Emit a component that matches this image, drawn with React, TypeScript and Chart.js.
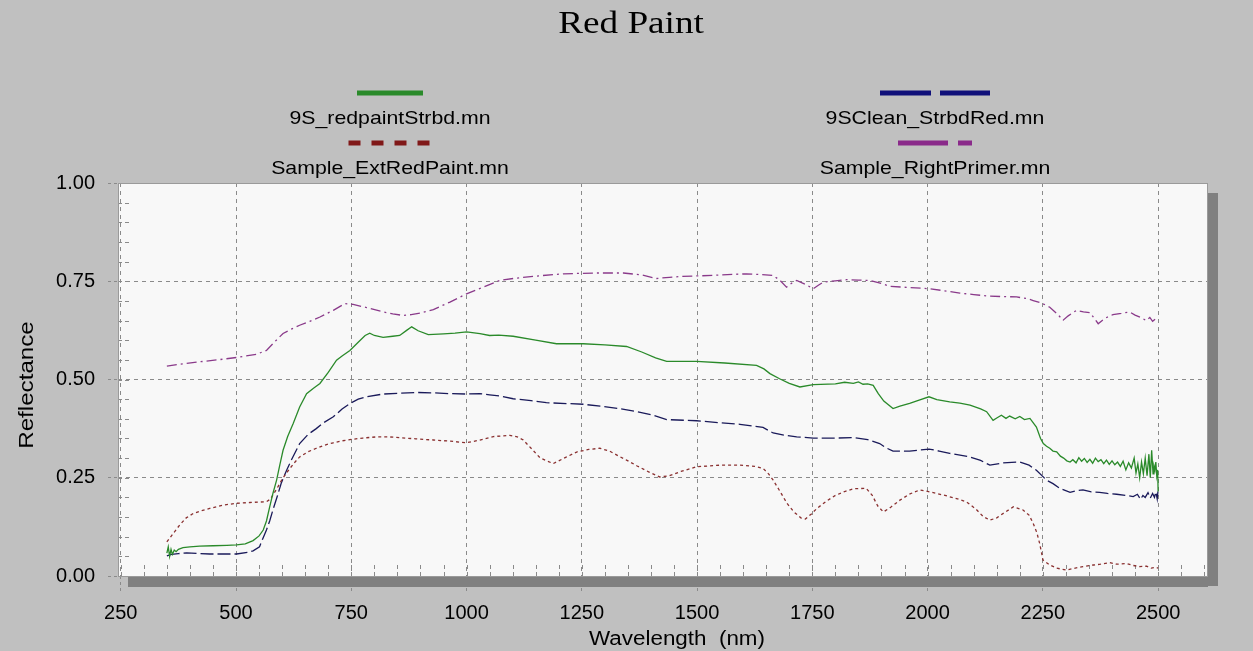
import React, { useEffect, useRef } from 'react';
import { Chart, registerables } from 'chart.js';

Chart.register(...registerables);

const TITLE = 'Red Paint';
const X_TITLE = 'Wavelength';
const X_UNIT = '(nm)';
const Y_TITLE = 'Reflectance';
const X_TICKS = [250, 500, 750, 1000, 1250, 1500, 1750, 2000, 2250, 2500];
const Y_TICKS = [0, 0.25, 0.5, 0.75, 1];
const SERIES_NAMES = ['9S_redpaintStrbd.mn', 'Sample_ExtRedPaint.mn', '9SClean_StrbdRed.mn', 'Sample_RightPrimer.mn'];

const greenNm = [350, 353, 356, 359, 362, 366, 370, 375, 385, 400, 421, 450, 480, 501, 520, 537, 550, 559, 566, 573, 580, 588, 595, 602, 612, 624, 638, 653, 668, 682, 700, 718, 730, 747, 765, 780, 790, 800, 819, 840, 855, 870, 881, 895, 917, 950, 975, 1000, 1029, 1050, 1070, 1101, 1150, 1195, 1253, 1300, 1347, 1380, 1410, 1434, 1499, 1560, 1629, 1645, 1658, 1679, 1700, 1723, 1752, 1800, 1820, 1839, 1850, 1860, 1870, 1882, 1893, 1905, 1925, 1940, 1961, 1980, 2003, 2020, 2048, 2070, 2092, 2115, 2128, 2142, 2150, 2160, 2170, 2178, 2190, 2200, 2210, 2222, 2236, 2245, 2251, 2258, 2265, 2272, 2280, 2288, 2295, 2302, 2309, 2315, 2322, 2328, 2334, 2340, 2346, 2352, 2358, 2364, 2370, 2376, 2382, 2388, 2394, 2400, 2406, 2412, 2418, 2424, 2430, 2436, 2442, 2448, 2452, 2456, 2460, 2464, 2468, 2472, 2476, 2480, 2483, 2486, 2489, 2491, 2493, 2495, 2497, 2499, 2500];
const greenVal = [0.058, 0.074, 0.05, 0.068, 0.055, 0.066, 0.062, 0.068, 0.072, 0.074, 0.076, 0.077, 0.078, 0.079, 0.082, 0.09, 0.102, 0.117, 0.14, 0.176, 0.21, 0.244, 0.283, 0.32, 0.355, 0.388, 0.43, 0.464, 0.478, 0.49, 0.518, 0.549, 0.56, 0.574, 0.595, 0.612, 0.618, 0.612, 0.607, 0.61, 0.612, 0.625, 0.634, 0.624, 0.614, 0.616, 0.618, 0.621, 0.617, 0.612, 0.613, 0.61, 0.6, 0.591, 0.591, 0.588, 0.584, 0.57, 0.555, 0.546, 0.546, 0.542, 0.536, 0.527, 0.515, 0.502, 0.49, 0.481, 0.487, 0.489, 0.493, 0.49, 0.494, 0.488, 0.489, 0.485, 0.464, 0.445, 0.426, 0.432, 0.439, 0.447, 0.456, 0.449, 0.443, 0.44, 0.435, 0.425, 0.418, 0.396, 0.402, 0.409, 0.401, 0.407, 0.4, 0.406, 0.398, 0.401, 0.379, 0.35, 0.337, 0.33, 0.325, 0.318, 0.316, 0.305, 0.3, 0.293, 0.29, 0.296, 0.288, 0.301, 0.292, 0.299, 0.289, 0.297, 0.287, 0.3, 0.291, 0.296, 0.286, 0.295, 0.284, 0.293, 0.283, 0.29, 0.279, 0.292, 0.27, 0.288, 0.275, 0.3, 0.262, 0.285, 0.25, 0.29, 0.26, 0.3, 0.255, 0.31, 0.25, 0.32, 0.26, 0.28, 0.27, 0.29, 0.255, 0.27, 0.215];

const navyNm = [350, 360, 375, 393, 420, 443, 470, 501, 525, 537, 551, 558, 566, 573, 580, 590, 598, 610, 620, 638, 656, 674, 690, 711, 730, 747, 765, 783, 819, 855, 891, 928, 964, 1000, 1029, 1050, 1072, 1101, 1140, 1173, 1253, 1290, 1332, 1370, 1405, 1434, 1499, 1550, 1593, 1643, 1665, 1690, 1716, 1752, 1800, 1839, 1870, 1896, 1910, 1925, 1961, 2003, 2025, 2048, 2092, 2115, 2135, 2164, 2200, 2220, 2236, 2258, 2272, 2287, 2309, 2322, 2337, 2355, 2373, 2390, 2410, 2430, 2446, 2455, 2462, 2467, 2472, 2478, 2483, 2488, 2492, 2495, 2498, 2500];
const navyVal = [0.051, 0.055, 0.057, 0.059, 0.057, 0.056, 0.056, 0.056, 0.06, 0.064, 0.0745, 0.095, 0.117, 0.14, 0.168, 0.205, 0.236, 0.27, 0.295, 0.337, 0.36, 0.375, 0.39, 0.405, 0.425, 0.439, 0.45, 0.456, 0.463, 0.465, 0.467, 0.466, 0.464, 0.463, 0.464, 0.461, 0.458, 0.451, 0.446, 0.441, 0.437, 0.432, 0.426, 0.418, 0.409, 0.398, 0.395, 0.39, 0.386, 0.378, 0.364, 0.358, 0.354, 0.351, 0.351, 0.352, 0.347, 0.337, 0.326, 0.318, 0.318, 0.323, 0.318, 0.312, 0.303, 0.294, 0.282, 0.288, 0.29, 0.282, 0.269, 0.244, 0.235, 0.223, 0.213, 0.217, 0.219, 0.214, 0.213, 0.21, 0.208, 0.205, 0.202, 0.208, 0.195, 0.205, 0.2, 0.212, 0.198, 0.21, 0.2, 0.214, 0.196, 0.22];

const redNm = [350, 365, 378, 392, 407, 425, 443, 470, 501, 530, 566, 575, 580, 590, 599, 608, 617, 628, 638, 656, 674, 692, 711, 730, 747, 775, 805, 830, 855, 890, 928, 965, 1000, 1029, 1060, 1094, 1110, 1123, 1140, 1160, 1188, 1215, 1240, 1265, 1289, 1310, 1330, 1347, 1370, 1395, 1419, 1440, 1465, 1499, 1550, 1593, 1625, 1643, 1655, 1665, 1680, 1695, 1710, 1725, 1735, 1748, 1760, 1780, 1800, 1820, 1840, 1867, 1880, 1892, 1904, 1920, 1940, 1960, 1983, 2005, 2034, 2060, 2084, 2105, 2120, 2135, 2150, 2165, 2186, 2207, 2220, 2229, 2237, 2243, 2247, 2250, 2265, 2280, 2301, 2320, 2337, 2360, 2375, 2395, 2410, 2431, 2445, 2460, 2475, 2485, 2495, 2500];
const redVal = [0.087, 0.11, 0.13, 0.148, 0.159, 0.166, 0.172, 0.18, 0.185, 0.187, 0.189, 0.196, 0.206, 0.225, 0.244, 0.26, 0.274, 0.29, 0.303, 0.316, 0.325, 0.333, 0.339, 0.344, 0.347, 0.351, 0.354, 0.354, 0.352, 0.349, 0.346, 0.343, 0.339, 0.346, 0.355, 0.358, 0.354, 0.346, 0.325, 0.3, 0.286, 0.302, 0.316, 0.322, 0.325, 0.318, 0.305, 0.295, 0.28, 0.265, 0.252, 0.255, 0.266, 0.278, 0.282, 0.282, 0.279, 0.274, 0.26, 0.244, 0.215, 0.185, 0.163, 0.148, 0.145, 0.158, 0.172, 0.19, 0.205, 0.215, 0.222, 0.223, 0.205, 0.178, 0.163, 0.175, 0.193, 0.208, 0.219, 0.214, 0.206, 0.198, 0.189, 0.17, 0.152, 0.142, 0.148, 0.16, 0.176, 0.168, 0.155, 0.134, 0.11, 0.083, 0.06, 0.041, 0.028, 0.02, 0.015, 0.02, 0.024, 0.028, 0.03, 0.034, 0.03, 0.032, 0.027, 0.024, 0.025, 0.02, 0.022, 0.02];

const purpleNm = [350, 380, 421, 460, 501, 544, 566, 583, 602, 620, 638, 660, 682, 711, 736, 754, 783, 819, 840, 862, 880, 899, 928, 964, 1000, 1036, 1072, 1101, 1150, 1210, 1282, 1340, 1380, 1412, 1440, 1463, 1535, 1607, 1640, 1665, 1680, 1694, 1705, 1716, 1735, 1752, 1763, 1774, 1800, 1824, 1850, 1875, 1895, 1918, 1960, 2003, 2035, 2070, 2100, 2135, 2165, 2193, 2215, 2229, 2248, 2265, 2280, 2294, 2305, 2323, 2338, 2352, 2362, 2370, 2385, 2402, 2420, 2438, 2450, 2462, 2474, 2482, 2488, 2495, 2500];
const purpleVal = [0.534, 0.539, 0.545, 0.55, 0.556, 0.564, 0.574, 0.595, 0.617, 0.628, 0.638, 0.648, 0.659, 0.676, 0.693, 0.691, 0.683, 0.672, 0.667, 0.663, 0.665, 0.669, 0.678, 0.697, 0.718, 0.735, 0.752, 0.757, 0.763, 0.769, 0.771, 0.771, 0.766, 0.757, 0.76, 0.762, 0.765, 0.769, 0.767, 0.765, 0.752, 0.735, 0.745, 0.752, 0.742, 0.731, 0.74, 0.748, 0.751, 0.754, 0.753, 0.752, 0.746, 0.737, 0.734, 0.731, 0.726, 0.72, 0.716, 0.712, 0.711, 0.71, 0.706, 0.701, 0.694, 0.684, 0.668, 0.651, 0.662, 0.676, 0.672, 0.67, 0.655, 0.642, 0.656, 0.665, 0.668, 0.672, 0.664, 0.658, 0.65, 0.658, 0.648, 0.655, 0.652];

const COLORS = ['#2a8a2a', '#801818', '#10107a', '#8a2a8a'];
const PLOT_COLORS = ['#2a8a2a', '#8a3030', '#1a1a5a', '#8a3a8a'];
const PLOT_DASH = [[], [3, 3], [13, 4], [10, 4, 2, 4]];
const LEGEND_DASH = [[], [12, 11], [51, 9], [50, 10, 14]];

const toPts = (xs: number[], ys: number[]) => xs.map((x, i) => ({ x, y: ys[i] }));

const decor = {
  id: 'decor',
  beforeDraw(chart: any) {
    const { ctx, chartArea: a, width, height } = chart;
    ctx.save();
    ctx.fillStyle = '#c0c0c0';
    ctx.fillRect(0, 0, width, height);
    ctx.fillStyle = '#f8f8f8';
    ctx.fillRect(a.left, a.top, a.right - a.left, a.bottom - a.top);
    ctx.restore();
  },
  beforeDatasetsDraw(chart: any) {
    const { ctx, chartArea: a } = chart;
    const xs = chart.scales.x;
    const ys = chart.scales.y;
    ctx.save();
    ctx.strokeStyle = '#8a8a8a';
    ctx.lineWidth = 1;
    ctx.setLineDash([4, 3]);
    for (let v = 250; v <= 2600; v += 50) {
      const px = Math.round(xs.getPixelForValue(v)) + 0.5;
      ctx.beginPath();
      ctx.moveTo(px, a.bottom);
      ctx.lineTo(px, a.bottom - 11);
      ctx.stroke();
    }
    for (let v = 0.05; v < 1; v += 0.05) {
      const py = Math.round(ys.getPixelForValue(v)) + 0.5;
      ctx.beginPath();
      ctx.moveTo(a.left, py);
      ctx.lineTo(a.left + 11, py);
      ctx.stroke();
    }
    ctx.setLineDash([]);
    ctx.strokeStyle = '#9a9a9a';
    ctx.strokeRect(Math.round(a.left) + 0.5, Math.round(a.top) + 0.5, Math.round(a.right - a.left), Math.round(a.bottom - a.top));
    ctx.restore();
  },
  afterDraw(chart: any) {
    const { ctx, chartArea: a } = chart;
    ctx.save();
    // shadow
    ctx.fillStyle = '#808080';
    ctx.fillRect(a.right + 1, a.top + 10, 10, a.bottom - a.top);
    ctx.fillRect(a.left + 10, a.bottom + 1, a.right - a.left - 9, 10);
    // title
    ctx.fillStyle = '#000';
    ctx.textAlign = 'center';
    ctx.textBaseline = 'middle';
    ctx.save();
    ctx.translate(631, 25);
    ctx.scale(1.2, 1);
    ctx.font = '31px "Liberation Serif", "Times New Roman", serif';
    ctx.fillText(TITLE, 0, 0);
    ctx.restore();
    // legend
    const cols = [390, 935];
    const rows = [93, 143];
    const widths = [66, 83, 110, 74];
    SERIES_NAMES.forEach((name, i) => {
      const cx = cols[i < 2 ? 0 : 1];
      const ly = rows[i % 2];
      const w = widths[i];
      ctx.save();
      ctx.strokeStyle = COLORS[i];
      ctx.lineWidth = 5;
      ctx.setLineDash(LEGEND_DASH[i]);
      ctx.beginPath();
      ctx.moveTo(cx - w / 2, ly);
      ctx.lineTo(cx + w / 2, ly);
      ctx.stroke();
      ctx.restore();
      ctx.save();
      ctx.translate(cx, ly + 26);
      ctx.scale(1.12, 1);
      ctx.font = '19px "Liberation Sans", Arial, sans-serif';
      ctx.fillStyle = '#000';
      ctx.fillText(name, 0, 0);
      ctx.restore();
    });
    // axis titles
    ctx.save();
    ctx.translate(27, 385);
    ctx.rotate(-Math.PI / 2);
    ctx.scale(1.15, 1);
    ctx.font = '21px "Liberation Sans", Arial, sans-serif';
    ctx.fillText(Y_TITLE, 0, 0);
    ctx.restore();
    ctx.save();
    ctx.translate(677, 639);
    ctx.scale(1.12, 1);
    ctx.font = '20px "Liberation Sans", Arial, sans-serif';
    ctx.fillText(X_TITLE + '  ' + X_UNIT, 0, 0);
    ctx.restore();
    ctx.restore();
  },
};

export default function App() {
  const ref = useRef<HTMLCanvasElement>(null);
  useEffect(() => {
    document.body.style.margin = '0';
    const ctx = ref.current!.getContext('2d')!;
    const datasets = [
      toPts(greenNm, greenVal),
      toPts(redNm, redVal),
      toPts(navyNm, navyVal),
      toPts(purpleNm, purpleVal),
    ].map((data, i) => ({
      label: SERIES_NAMES[i],
      data,
      borderColor: PLOT_COLORS[i],
      borderWidth: 1.3,
      borderDash: PLOT_DASH[i],
      pointRadius: 0,
      tension: 0,
      fill: false,
    }));
    const chart = new Chart(ctx, {
      type: 'line',
      data: { datasets },
      plugins: [decor],
      options: {
        animation: false,
        responsive: false,
        parsing: true,
        layout: { padding: { top: 183, right: 46, left: 0, bottom: 0 } },
        plugins: { legend: { display: false }, title: { display: false }, tooltip: { enabled: false } },
        scales: {
          x: {
            type: 'linear',
            min: 244,
            max: 2606,
            afterBuildTicks: (s: any) => { s.ticks = X_TICKS.map((v) => ({ value: v })); },
            afterFit: (s: any) => { s.height = 75; },
            grid: { color: '#8a8a8a', lineWidth: 1, tickLength: 18, tickColor: '#8a8a8a', tickBorderDash: [3, 3] },
            border: { display: false, dash: [4, 4] },
            ticks: {
              color: '#000',
              font: { family: '"Liberation Sans", Arial, sans-serif', size: 20 },
              padding: 7,
              maxRotation: 0,
              autoSkip: false,
              callback: (v: any) => String(v),
            },
          },
          y: {
            type: 'linear',
            min: 0,
            max: 1,
            afterBuildTicks: (s: any) => { s.ticks = Y_TICKS.map((v) => ({ value: v })); },
            afterFit: (s: any) => { s.width = 118; },
            grid: { color: '#8a8a8a', lineWidth: 1, tickLength: 10, tickColor: '#8a8a8a', tickBorderDash: [3, 3] },
            border: { display: false, dash: [4, 4] },
            ticks: {
              color: '#000',
              font: { family: '"Liberation Sans", Arial, sans-serif', size: 20 },
              padding: 13,
              callback: (v: any) => Number(v).toFixed(2),
            },
          },
        },
      },
    });
    return () => chart.destroy();
  }, []);
  return <canvas ref={ref} width={1253} height={651} style={{ display: 'block' }} />;
}
